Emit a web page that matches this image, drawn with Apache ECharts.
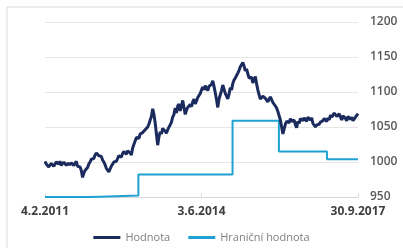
<!DOCTYPE html>
<html lang="cs">
<head>
<meta charset="utf-8">
<title>Hodnota</title>
<script src="https://cdn.jsdelivr.net/npm/echarts@6/dist/echarts.min.js"></script>
<style>
  html, body { margin: 0; padding: 0; background: #fff; }
  #main { width: 403px; height: 248px; }
</style>
</head>
<body>
<div id="main"></div>
<script>
// tick labels for x axis (days 0, 1215, 2430 from 4.2.2011)
var xLabels = ['4.2.2011', '3.6.2014', '30.9.2017'];
var totalDays = 2430;

// Hodnota - values, evenly spaced in time
var hodnota = [
  1001, 997, 996, 993, 994, 998, 997, 994, 996, 1000,
  999, 997, 1001, 995, 997, 1000, 999, 995, 998, 1000,
  996, 999, 1000, 995, 998, 1001, 994, 996, 993, 988,
  978, 984, 988, 986, 992, 997, 1000, 1004, 1006, 1005,
  1010, 1013, 1012, 1009, 1007, 1008, 1003, 1000, 996, 991,
  989, 986, 990, 994, 996, 1000, 1002, 1001, 1005, 1009,
  1008, 1007, 1012, 1015, 1014, 1011, 1016, 1018, 1013, 1010,
  1020, 1025, 1030, 1035, 1037, 1034, 1040, 1038, 1042, 1040,
  1046, 1044, 1050, 1054, 1060, 1065, 1076, 1068, 1056, 1040,
  1024, 1036, 1043, 1040, 1048, 1050, 1044, 1041, 1046, 1050,
  1053, 1057, 1064, 1068, 1077, 1070, 1080, 1083, 1073, 1080,
  1088, 1078, 1068, 1074, 1078, 1076, 1082, 1079, 1086, 1090,
  1083, 1087, 1092, 1094, 1098, 1103, 1107, 1103, 1109, 1105,
  1102, 1108, 1106, 1111, 1116, 1108, 1099, 1089, 1078, 1090,
  1096, 1102, 1110, 1104, 1098, 1094, 1090, 1097, 1106, 1103,
  1112, 1117, 1120, 1118, 1127, 1131, 1136, 1134, 1142, 1137,
  1130, 1133, 1126, 1120, 1119, 1121, 1113, 1117, 1122, 1112,
  1103, 1096, 1090, 1088, 1094, 1096, 1091, 1093, 1086, 1090,
  1093, 1089, 1085, 1086, 1080, 1077, 1072, 1066, 1060, 1050,
  1040, 1047, 1054, 1058, 1060, 1056, 1062, 1058, 1056, 1060,
  1053, 1049, 1058, 1055, 1062, 1064, 1059, 1063, 1061, 1058,
  1064, 1066, 1060, 1063, 1055, 1057, 1050, 1053, 1051, 1054,
  1057, 1055, 1059, 1062, 1061, 1058, 1063, 1060, 1067, 1064,
  1066, 1070, 1068, 1065, 1067, 1069, 1064, 1060, 1066, 1068,
  1062, 1059, 1065, 1067, 1061, 1064, 1059, 1057, 1064, 1066,
  1069
];

// Hranicni hodnota - step breakpoints (day offset, value)
var stepDays = [0, 363, 725, 1456, 1816, 2189, 2430];
var stepValues = [950, 952, 982, 1059, 1015, 1004, 1004];

var yTicks = [950, 1000, 1050, 1100, 1150, 1200];

var dayStep = totalDays / (hodnota.length - 1);
var hodnotaData = hodnota.map(function (v, i) { return [i * dayStep, v]; });
var stepData = stepDays.map(function (d, i) { return [d, stepValues[i]]; });

var myChart = echarts.init(document.getElementById('main'));

var option = {
    animation: false,
    textStyle: { fontFamily: 'Open Sans' },
    graphic: [{
        type: 'rect',
        shape: { x: 7, y: 7, width: 430, height: 300 },
        style: { fill: 'none', stroke: '#d9d9d9', lineWidth: 1 },
        silent: true
    }],
    grid: { left: 45, right: 45, top: 22, bottom: 51 },
    legend: {
        bottom: 0,
        left: 'center',
        icon: 'rect',
        itemWidth: 27,
        itemHeight: 3,
        itemGap: 18,
        textStyle: { color: '#7f7f7f', fontSize: 11 },
        data: ['Hodnota', 'Hraniční hodnota']
    },
    xAxis: {
        type: 'value',
        min: 0,
        max: totalDays,
        interval: totalDays / 2,
        splitLine: { show: false },
        axisLine: { lineStyle: { color: '#d9d9d9' } },
        axisTick: { show: true, inside: true, length: 4, lineStyle: { color: '#d9d9d9' } },
        axisLabel: {
            color: '#404040',
            fontSize: 12,
            fontWeight: 'bold',
            margin: 9,
            formatter: function (v) {
                return xLabels[Math.round(v / (totalDays / 2))];
            }
        }
    },
    yAxis: {
        type: 'value',
        position: 'right',
        min: yTicks[0],
        max: yTicks[yTicks.length - 1],
        interval: 50,
        axisLine: { show: false },
        axisTick: { show: false },
        splitLine: { lineStyle: { color: '#e6e6e6' } },
        axisLabel: {
            color: '#595959', fontSize: 12, fontWeight: 600, margin: 12,
            formatter: function (v) { return String(v); }
        }
    },
    series: [{
        name: 'Hodnota',
        type: 'line',
        symbol: 'none',
        z: 3,
        lineStyle: { color: '#1c2b5e', width: 3 },
        itemStyle: { color: '#1c2b5e' },
        data: hodnotaData
    }, {
        name: 'Hraniční hodnota',
        type: 'line',
        step: 'end',
        symbol: 'none',
        z: 2,
        lineStyle: { color: '#1fa2d3', width: 2 },
        itemStyle: { color: '#1fa2d3' },
        data: stepData
    }]
};
myChart.setOption(option);
</script>
</body>
</html>
